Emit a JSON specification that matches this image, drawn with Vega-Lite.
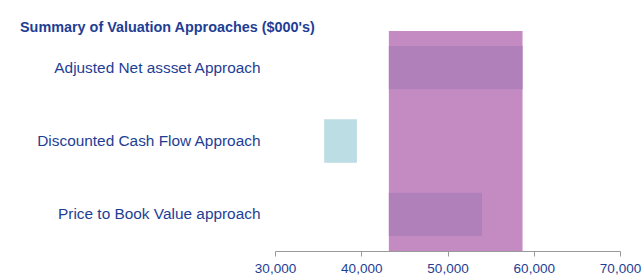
{
  "$schema": "https://vega.github.io/schema/vega-lite/v6.json",
  "width": 345,
  "height": 220,
  "autosize": "none",
  "padding": {"left": 275, "top": 31, "right": 21, "bottom": 25},
  "background": "white",
  "config": {"view": {"stroke": null}, "font": "Liberation Sans"},
  "title": {
    "text": "Summary of Valuation Approaches ($000's)",
    "anchor": "start",
    "frame": "group",
    "dx": -255,
    "offset": 0,
    "dy": 4,
    "fontSize": 14.4,
    "fontWeight": "bold",
    "color": "#1E3E94",
    "font": "Liberation Sans"
  },
  "datasets": {
    "range": [{"low": 43200, "high": 58700}],
    "bars": [
      {"approach": "Adjusted Net assset Approach", "low": 43200, "high": 58700},
      {"approach": "Discounted Cash Flow Approach", "low": 35700, "high": 39500},
      {"approach": "Price to Book Value approach", "low": 43200, "high": 54000}
    ]
  },
  "layer": [
    {
      "data": {"name": "range"},
      "mark": {"type": "rect", "color": "#C48BC3"},
      "encoding": {
        "x": {"field": "low", "type": "quantitative", "scale": {"domain": [30000, 70000]}},
        "x2": {"field": "high"}
      }
    },
    {
      "data": {"name": "bars"},
      "mark": {"type": "bar"},
      "encoding": {
        "y": {
          "field": "approach",
          "type": "nominal",
          "sort": null,
          "scale": {"paddingInner": 0.41, "paddingOuter": 0.205},
          "axis": {
            "title": null,
            "ticks": false,
            "domain": false,
            "labelPadding": 15,
            "labelFontSize": 15.4,
            "labelColor": "#1E3E94",
            "labelLimit": 300
          }
        },
        "x": {
          "field": "low",
          "type": "quantitative",
          "scale": {"domain": [30000, 70000]},
          "axis": {
            "title": null,
            "values": [30000, 40000, 50000, 60000, 70000],
            "format": ",.0f",
            "grid": false,
            "domainColor": "#999999",
            "tickColor": "#999999",
            "tickSize": 5,
            "labelPadding": 5,
            "labelFontSize": 13.5,
            "labelColor": "#1E3E94",
            "labelFlush": false,
            "labelOverlap": false
          }
        },
        "x2": {"field": "high"},
        "color": {
          "field": "approach",
          "type": "nominal",
          "sort": null,
          "scale": {"range": ["#AF80BA", "#BCDDE3", "#AF80BA"]},
          "legend": null
        }
      }
    }
  ]
}
